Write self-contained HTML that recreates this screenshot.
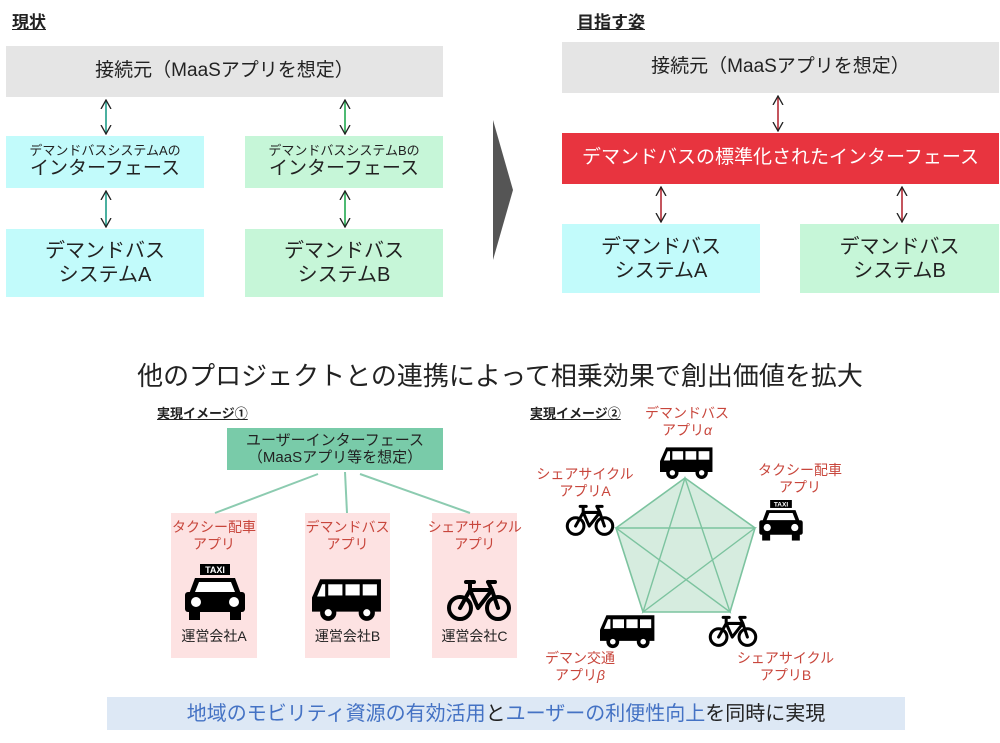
<!DOCTYPE html>
<html><head><meta charset="utf-8"><style>
body{margin:0;width:1000px;height:743px;background:#fff;position:relative;overflow:hidden;font-family:"Liberation Sans","Noto Sans CJK JP",sans-serif;color:#222}
.a{position:absolute;box-sizing:border-box;display:flex;flex-direction:column;align-items:center;justify-content:center;text-align:center;line-height:1.2;white-space:nowrap}
.h{position:absolute;font-weight:bold;font-size:17px;text-decoration:underline}
.r{color:#c8463c}
svg{position:absolute;left:0;top:0}
</style></head><body>
<div class="h" style="left:12px;top:8px">現状</div>
<div class="h" style="left:577px;top:8px">目指す姿</div>
<div class="a" style="left:6px;top:46px;width:437px;height:51px;background:#e5e5e5;font-size:19px">接続元（MaaSアプリを想定）</div>
<div class="a" style="left:6px;top:136px;width:198px;height:52px;background:#c2fbfb;font-size:13px"><span>デマンドバスシステムAの</span><span style="font-size:19px">インターフェース</span></div>
<div class="a" style="left:245px;top:136px;width:198px;height:52px;background:#c6f6d8;font-size:13px"><span>デマンドバスシステムBの</span><span style="font-size:19px">インターフェース</span></div>
<div class="a" style="left:6px;top:229px;width:198px;height:68px;background:#c2fbfb;font-size:20px"><div>デマンドバス<br>システムA</div></div>
<div class="a" style="left:245px;top:229px;width:198px;height:68px;background:#c6f6d8;font-size:20px"><div>デマンドバス<br>システムB</div></div>
<div class="a" style="left:562px;top:42px;width:437px;height:51px;background:#e5e5e5;font-size:19px">接続元（MaaSアプリを想定）</div>
<div class="a" style="left:562px;top:133px;width:437px;height:51px;background:#e8343f;color:#fff;font-size:19px">デマンドバスの標準化されたインターフェース</div>
<div class="a" style="left:562px;top:224px;width:198px;height:69px;background:#c2fbfb;font-size:20px"><div>デマンドバス<br>システムA</div></div>
<div class="a" style="left:800px;top:224px;width:199px;height:69px;background:#c6f6d8;font-size:20px"><div>デマンドバス<br>システムB</div></div>
<div class="a" style="left:100px;top:360px;width:800px;height:34px;font-size:26px">他のプロジェクトとの連携によって相乗効果で創出価値を拡大</div>
<div class="h" style="left:157px;top:403px;font-size:13px">実現イメージ①</div>
<div class="h" style="left:530px;top:403px;font-size:13px">実現イメージ②</div>
<div class="a" style="left:227px;top:428px;width:216px;height:42px;background:#79cba9;font-size:15px;line-height:1.15"><div>ユーザーインターフェース<br>（MaaSアプリ等を想定）</div></div>
<div class="a" style="left:171px;top:513px;width:86px;height:145px;background:#fde2e2;justify-content:flex-start;padding-top:6px;font-size:14px"><span class="r">タクシー配車<br>アプリ</span><span style="position:absolute;top:115px">運営会社A</span></div>
<div class="a" style="left:305px;top:513px;width:85px;height:145px;background:#fde2e2;justify-content:flex-start;padding-top:6px;font-size:14px"><span class="r">デマンドバス<br>アプリ</span><span style="position:absolute;top:115px">運営会社B</span></div>
<div class="a" style="left:432px;top:513px;width:85px;height:145px;background:#fde2e2;justify-content:flex-start;padding-top:6px;font-size:14px"><span class="r" style="letter-spacing:-0.5px">シェアサイクル<br>アプリ</span><span style="position:absolute;top:115px">運営会社C</span></div>
<div class="a r" style="left:627px;top:405px;width:120px;font-size:14px"><div>デマンドバス<br>アプリ<i>α</i></div></div>
<div class="a r" style="left:525px;top:466px;width:120px;font-size:14px"><div>シェアサイクル<br>アプリA</div></div>
<div class="a r" style="left:745px;top:462px;width:110px;font-size:14px"><div>タクシー配車<br>アプリ</div></div>
<div class="a r" style="left:525px;top:650px;width:110px;font-size:14px"><div>デマン交通<br>アプリ<i>β</i></div></div>
<div class="a r" style="left:728px;top:650px;width:115px;font-size:14px"><div>シェアサイクル<br>アプリB</div></div>
<div class="a" style="left:107px;top:697px;width:798px;height:33px;background:#dde8f5;font-size:20px;flex-direction:row"><span style="color:#4472c4">地域のモビリティ資源の有効活用</span><span>と</span><span style="color:#4472c4">ユーザーの利便性向上</span><span>を同時に実現</span></div>
<svg width="1000" height="743">
<defs>
<marker id="t" viewBox="0 0 10 10" refX="9" refY="5" markerWidth="10" markerHeight="14" orient="auto-start-reverse" markerUnits="userSpaceOnUse"><path d="M0,0 L9,5 L0,10" fill="none" stroke="currentColor" stroke-width="1.3"/></marker>
<symbol id="bus" viewBox="0 0 70 46"><path d="M8,4 H68 V36 H0 V22 Z" fill="#000"/><rect x="16" y="9" width="14" height="11" fill="#fff"/><rect x="33" y="9" width="14" height="11" fill="#fff"/><rect x="50" y="9" width="14" height="11" fill="#fff"/><path d="M5,21 L10,9 H13 V21Z" fill="#fff"/><circle cx="16" cy="37" r="8" fill="#000"/><circle cx="16" cy="37" r="3.5" fill="#fff"/><circle cx="54" cy="37" r="8" fill="#000"/><circle cx="54" cy="37" r="3.5" fill="#fff"/></symbol>
<symbol id="taxi" viewBox="0 0 60 58"><rect x="15" y="0" width="30" height="11" fill="#000"/><text x="30" y="9" font-size="9" font-weight="bold" fill="#fff" text-anchor="middle" font-family="Liberation Sans">TAXI</text><path d="M10,14 H50 L56,30 H4 Z" fill="#000"/><path d="M14,18 H46 L50,28 H10 Z" fill="#fff"/><rect x="0" y="28" width="60" height="20" rx="3" fill="#000"/><circle cx="11" cy="38" r="5" fill="#fff"/><circle cx="49" cy="38" r="5" fill="#fff"/><rect x="4" y="46" width="11" height="10" fill="#000"/><rect x="45" y="46" width="11" height="10" fill="#000"/></symbol>
<symbol id="bike" viewBox="0 0 66 44"><g fill="none" stroke="#000" stroke-width="4" stroke-linecap="round" stroke-linejoin="round"><circle cx="14" cy="30" r="11"/><circle cx="52" cy="30" r="11"/><path d="M14,30 L24,12 H46 L52,30 M24,12 L32,30 L46,12 M20,4 H28 M24,4 L24,12 M42,4 L46,12 M42,4 H49"/></g></symbol>
</defs>
<g stroke="#1e9c88" color="#1e9c88" stroke-width="1.6"><line x1="106" y1="100" x2="106" y2="134" marker-start="url(#t)" marker-end="url(#t)"/><line x1="106" y1="191" x2="106" y2="227" marker-start="url(#t)" marker-end="url(#t)"/></g>
<g stroke="#22a850" color="#22a850" stroke-width="1.6"><line x1="345" y1="100" x2="345" y2="134" marker-start="url(#t)" marker-end="url(#t)"/><line x1="345" y1="191" x2="345" y2="227" marker-start="url(#t)" marker-end="url(#t)"/></g>
<g stroke="#b52a35" color="#b52a35" stroke-width="1.6"><line x1="778" y1="96" x2="778" y2="131" marker-start="url(#t)" marker-end="url(#t)"/><line x1="661" y1="187" x2="661" y2="222" marker-start="url(#t)" marker-end="url(#t)"/><line x1="902" y1="187" x2="902" y2="222" marker-start="url(#t)" marker-end="url(#t)"/></g>
<path d="M493,120 L513,190 L493,260 Z" fill="#555"/>
<g stroke="#8ccbb0" stroke-width="2"><line x1="318" y1="474" x2="215" y2="513"/><line x1="345" y1="472" x2="347" y2="513"/><line x1="360" y1="474" x2="470" y2="513"/></g>
<polygon points="685,478 755,528 730,612 643,612 616,528" fill="#d6ecdf" stroke="#7cc39f" stroke-width="1.6"/>
<g stroke="#7cc39f" stroke-width="1.4" fill="none"><path d="M685,478 L730,612 L616,528 L755,528 L643,612 Z"/></g>
<use href="#taxi" x="185" y="564" width="60" height="58"/>
<use href="#bus" x="312" y="575" width="71" height="47"/>
<use href="#bike" x="446" y="578" width="66" height="44"/>
<use href="#bus" x="660" y="444" width="54" height="36"/>
<use href="#taxi" x="759" y="500" width="44" height="42"/>
<use href="#bike" x="565" y="503" width="50" height="34"/>
<use href="#bus" x="600" y="612" width="56" height="37"/>
<use href="#bike" x="708" y="614" width="50" height="34"/>
</svg>
</body></html>
